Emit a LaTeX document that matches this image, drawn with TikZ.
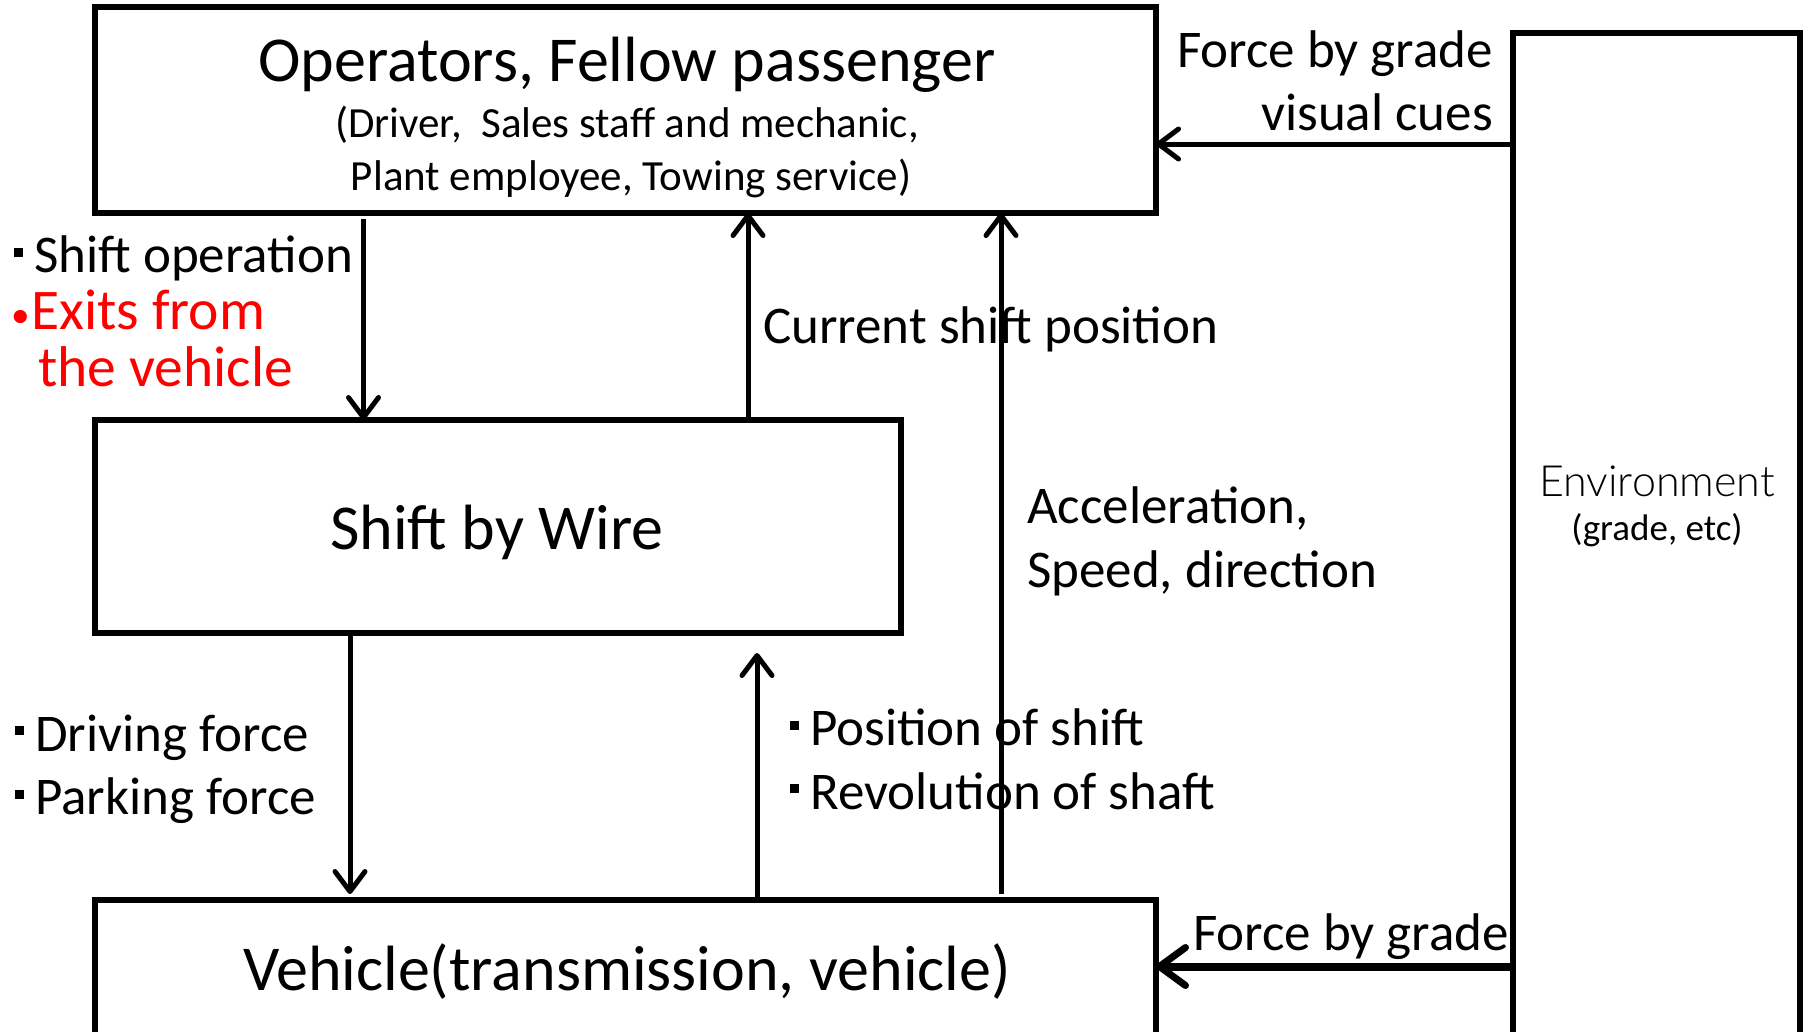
\documentclass[tikz,border=0pt]{standalone}
\usepackage{fontspec}
\setmainfont{Carlito}
\newfontfamily\envfont{Lato Light}
\usetikzlibrary{arrows.meta}
\newcommand{\sqb}{\makebox[20pt][l]{\rule[0.3em]{9pt}{9pt}}}
\newcommand{\rdot}{\makebox[20pt][l]{\raisebox{0.02em}{\scalebox{0.65}{•}}}}
\tikzset{
  box/.style={draw, line width=5.5pt, minimum width=#1, inner sep=0pt, outer sep=0pt},
  arr/.style={line width=5pt, -{Straight Barb[length=20pt,width=30pt,line width=5pt,round]}},
  arrthick/.style={line width=8pt, -{Straight Barb[length=26pt,width=38pt,line width=7pt,round]}},
  lab/.style={inner sep=0pt, anchor=base west, font=\fontsize{53}{60}\selectfont},
  labr/.style={inner sep=0pt, anchor=base east, font=\fontsize{53}{60}\selectfont},
  redlab/.style={inner sep=0pt, anchor=base west, text=red, font=\fontsize{57.5}{64}\selectfont},
  big/.style={inner sep=0pt, anchor=base, font=\fontsize{64}{70}\selectfont},
  sub/.style={inner sep=0pt, anchor=base, font=\fontsize{43}{48}\selectfont},
}
\begin{document}
\begin{tikzpicture}[x=1pt,y=-1pt]
\useasboundingbox (0,0) rectangle (1804,1031);
\clip (0,0) rectangle (1804,1031);
\fill[white] (0,0) rectangle (1804,1031);
% boxes
\node[box=1061pt, minimum height=206pt] (ops) at (625.5,110) {};
\node[box=806pt, minimum height=213pt] (sbw) at (498,526.5) {};
\node[box=1061pt, minimum height=200pt] (veh) at (625.5,1000) {};
\node[box=287pt, minimum height=1100pt] (env) at (1656.5,583) {};
% box texts
\node[big] (t1) at (627,81.5) {Operators, Fellow passenger};
\node[sub] (t2) at (627,137) {(Driver,\ \ Sales staff and mechanic,};
\node[sub] (t3) at (631,190) {Plant employee, Towing service)};
\node[big] (t4) at (497,549) {Shift by Wire};
\node[big] (t5) at (627,990.5) {Vehicle(transmission, vehicle)};
\node[inner sep=0pt, anchor=base, font=\envfont\fontsize{43}{48}\selectfont] (t6) at (1657,496) {Environment};
\node[inner sep=0pt, anchor=base, font=\fontsize{37}{42}\selectfont] (t7) at (1657,540) {(grade, etc)};
% coordinates for arrows
\coordinate (xa) at (363.5,0);
\coordinate (xb) at (748,0);
\coordinate (xc) at (1001,0);
\coordinate (xd) at (350,0);
\coordinate (xe) at (757,0);
\coordinate (ya) at (0,144);
\coordinate (yb) at (0,966.5);
% arrows
\draw[arr, shorten <=6pt] (ops.south -| xa) -- (sbw.north -| xa);
\draw[arr] (sbw.north -| xb) -- (ops.south -| xb);
\draw[arr, shorten <=6pt] (veh.north -| xc) -- (ops.south -| xc);
\draw[arr, shorten >=6pt] (sbw.south -| xd) -- (veh.north -| xd);
\draw[arr, shorten >=20pt] (veh.north -| xe) -- (sbw.south -| xe);
\draw[arr] (env.west |- ya) -- (ops.east |- ya);
\draw[arrthick] (env.west |- yb) -- (veh.east |- yb);
% labels
\node[labr] (l1) at (1493,67) {Force by grade};
\node[labr] (l2) at (1493,130) {visual cues};
\node[lab] (l3) at (14,272.5) {\sqb Shift operation};
\node[redlab] (l4) at (11,329) {\rdot Exits from};
\node[redlab] (l5) at (38,386.5) {the vehicle};
\node[lab] (l6) at (763,343) {Current shift position};
\node[lab] (l7) at (1027,523.5) {Acceleration,};
\node[lab] (l8) at (1027,587) {Speed, direction};
\node[lab] (l9) at (15,751) {\sqb Driving force};
\node[lab] (l10) at (15,814.5) {\sqb Parking force};
\node[lab] (l11) at (790,745.5) {\sqb Position of shift};
\node[lab] (l12) at (790,809) {\sqb Revolution of shaft};
\node[labr] (l13) at (1509,950) {Force by grade};
\end{tikzpicture}
\end{document}
